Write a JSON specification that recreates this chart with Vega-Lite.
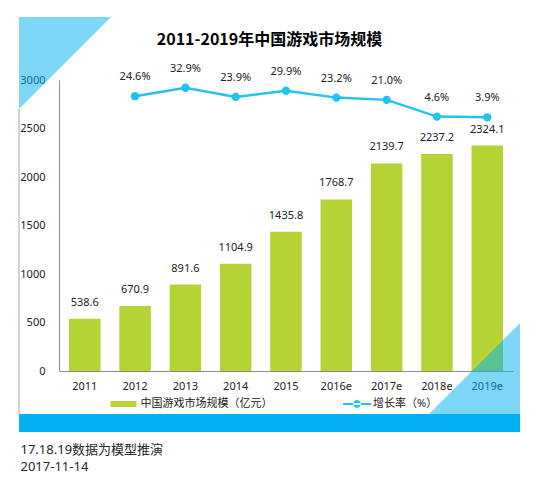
{
  "$schema": "https://vega.github.io/schema/vega-lite/v6.json",
  "description": "2011-2019年中国游戏市场规模：柱状为市场规模（亿元），折线为增长率",
  "width": 454,
  "height": 291,
  "autosize": {"type": "none"},
  "padding": {"left": 59, "top": 80, "right": 26, "bottom": 126},
  "data": {
    "values": [
      {"year": "2011", "size": 538.6, "growth": null},
      {"year": "2012", "size": 670.9, "growth": 0.246},
      {"year": "2013", "size": 891.6, "growth": 0.329},
      {"year": "2014", "size": 1104.9, "growth": 0.239},
      {"year": "2015", "size": 1435.8, "growth": 0.299},
      {"year": "2016e", "size": 1768.7, "growth": 0.232},
      {"year": "2017e", "size": 2139.7, "growth": 0.21},
      {"year": "2018e", "size": 2237.2, "growth": 0.046},
      {"year": "2019e", "size": 2324.1, "growth": 0.039}
    ]
  },
  "layer": [
    {
      "encoding": {
        "x": {
          "field": "year",
          "type": "nominal",
          "sort": null,
          "scale": {"paddingInner": 0.374, "paddingOuter": 0.199},
          "axis": {
            "title": null,
            "labelAngle": 0,
            "ticks": false,
            "tickSize": 0,
            "labelPadding": 9,
            "domainColor": "#8C8C8C"
          }
        }
      },
      "layer": [
        {
          "encoding": {
            "y": {
              "field": "size",
              "type": "quantitative",
              "scale": {"domain": [0, 3000], "nice": false},
              "axis": {
                "title": null,
                "values": [0, 500, 1000, 1500, 2000, 2500, 3000],
                "format": "d",
                "grid": false,
                "ticks": false,
                "tickSize": 0,
                "labelPadding": 14,
                "domainColor": "#8C8C8C"
              }
            }
          },
          "layer": [
            {
              "mark": {"type": "bar"},
              "encoding": {
                "color": {
                  "datum": "中国游戏市场规模（亿元）",
                  "scale": {"range": ["#B5D334"]},
                  "legend": {
                    "orient": "none",
                    "legendX": 51.5,
                    "legendY": 311,
                    "title": null,
                    "padding": 0,
                    "symbolType": "M-1,-0.23H1V0.23H-1Z",
                    "symbolSize": 676,
                    "symbolStrokeWidth": 0,
                    "labelOffset": 4
                  }
                }
              }
            },
            {
              "mark": {"type": "text", "baseline": "middle", "dy": -16},
              "encoding": {"text": {"field": "size", "format": ".1f"}}
            }
          ]
        },
        {
          "transform": [{"filter": "datum.growth != null"}],
          "encoding": {
            "y": {
              "field": "growth",
              "type": "quantitative",
              "scale": {"domain": [-2.446, 0.4046], "nice": false, "zero": false},
              "axis": null
            }
          },
          "layer": [
            {
              "mark": {"type": "line", "strokeWidth": 2.5},
              "encoding": {
                "stroke": {
                  "datum": "增长率（%）",
                  "scale": {"range": ["#22C3EE"]},
                  "legend": {
                    "orient": "none",
                    "legendX": 284,
                    "legendY": 310,
                    "title": null,
                    "padding": 0,
                    "symbolType": "M-1,-0.08H1V0.08H-1Z M-0.28,0A0.28,0.28 0 1 0 0.28,0A0.28,0.28 0 1 0 -0.28,0Z",
                    "symbolSize": 784,
                    "symbolFillColor": "#22C3EE",
                    "symbolStrokeWidth": 0,
                    "labelOffset": 2
                  }
                }
              }
            },
            {
              "mark": {"type": "point", "filled": true, "size": 70, "color": "#22C3EE", "opacity": 1}
            },
            {
              "mark": {"type": "text", "baseline": "middle", "dy": -19},
              "encoding": {"text": {"field": "growth", "format": ".1%"}}
            }
          ]
        }
      ],
      "resolve": {"scale": {"y": "independent"}}
    },
    {
      "data": {"values": [{}]},
      "layer": [
        {
          "mark": {"type": "point", "shape": "M-1,-1H1L-1,1Z", "size": 8464, "filled": true, "color": "#00B0F0", "fillOpacity": 0.5, "opacity": 1, "strokeWidth": 0},
          "encoding": {
            "x": {"datum": 0.0132, "type": "quantitative", "scale": {"domain": [0, 1], "nice": false, "zero": false}, "axis": null},
            "y": {"datum": 1.0584, "type": "quantitative", "scale": {"domain": [0, 1], "nice": false, "zero": false}, "axis": null}
          }
        },
        {
          "mark": {"type": "rect", "color": "#00B0F0"},
          "encoding": {
            "x": {"datum": -0.0881, "type": "quantitative", "scale": {"domain": [0, 1], "nice": false, "zero": false}, "axis": null},
            "x2": {"datum": 1.0154},
            "y": {"datum": -0.1478, "type": "quantitative", "scale": {"domain": [0, 1], "nice": false, "zero": false}, "axis": null},
            "y2": {"datum": -0.2096}
          }
        },
        {
          "mark": {"type": "point", "shape": "M1,-1V1H-1Z", "size": 8464, "filled": true, "color": "#00B0F0", "fillOpacity": 0.5, "opacity": 1, "strokeWidth": 0},
          "encoding": {
            "x": {"datum": 0.9141, "type": "quantitative", "scale": {"domain": [0, 1], "nice": false, "zero": false}, "axis": null},
            "y": {"datum": 0.0069, "type": "quantitative", "scale": {"domain": [0, 1], "nice": false, "zero": false}, "axis": null}
          }
        },
        {
          "mark": {"type": "rule", "color": "#A6A6A6", "strokeWidth": 1},
          "encoding": {
            "x": {"datum": -0.0881, "type": "quantitative", "scale": {"domain": [0, 1], "nice": false, "zero": false}, "axis": null},
            "y": {"datum": 0.9003, "type": "quantitative", "scale": {"domain": [0, 1], "nice": false, "zero": false}, "axis": null},
            "y2": {"datum": -0.1478}
          }
        },
        {
          "mark": {"type": "text", "text": "2011-2019年中国游戏市场规模", "font": "'Noto Sans CJK SC'", "fontSize": 16, "fontWeight": "bold", "color": "#000000", "align": "center", "baseline": "middle"},
          "encoding": {
            "x": {"datum": 0.4637, "type": "quantitative", "scale": {"domain": [0, 1], "nice": false, "zero": false}, "axis": null},
            "y": {"datum": 1.1375, "type": "quantitative", "scale": {"domain": [0, 1], "nice": false, "zero": false}, "axis": null}
          }
        },
        {
          "mark": {"type": "text", "text": "17.18.19数据为模型推演", "fontSize": 13, "color": "#262626", "align": "left", "baseline": "middle"},
          "encoding": {
            "x": {"datum": -0.0848, "type": "quantitative", "scale": {"domain": [0, 1], "nice": false, "zero": false}, "axis": null},
            "y": {"datum": -0.2715, "type": "quantitative", "scale": {"domain": [0, 1], "nice": false, "zero": false}, "axis": null}
          }
        },
        {
          "mark": {"type": "text", "text": "2017-11-14", "fontSize": 13, "color": "#262626", "align": "left", "baseline": "middle"},
          "encoding": {
            "x": {"datum": -0.0848, "type": "quantitative", "scale": {"domain": [0, 1], "nice": false, "zero": false}, "axis": null},
            "y": {"datum": -0.3316, "type": "quantitative", "scale": {"domain": [0, 1], "nice": false, "zero": false}, "axis": null}
          }
        }
      ]
    }
  ],
  "resolve": {"scale": {"x": "independent", "y": "independent"}},
  "config": {
    "font": "'Noto Sans', 'Noto Sans CJK SC'",
    "view": {"stroke": null},
    "axis": {"zindex": 0, "labelFontSize": 11, "labelColor": "#222222", "labelFont": "'Noto Sans', 'Noto Sans CJK SC'"},
    "legend": {"labelFontSize": 11, "labelColor": "#222222", "labelFont": "'Noto Sans', 'Noto Sans CJK SC'"},
    "text": {"fontSize": 11, "color": "#222222"}
  }
}
